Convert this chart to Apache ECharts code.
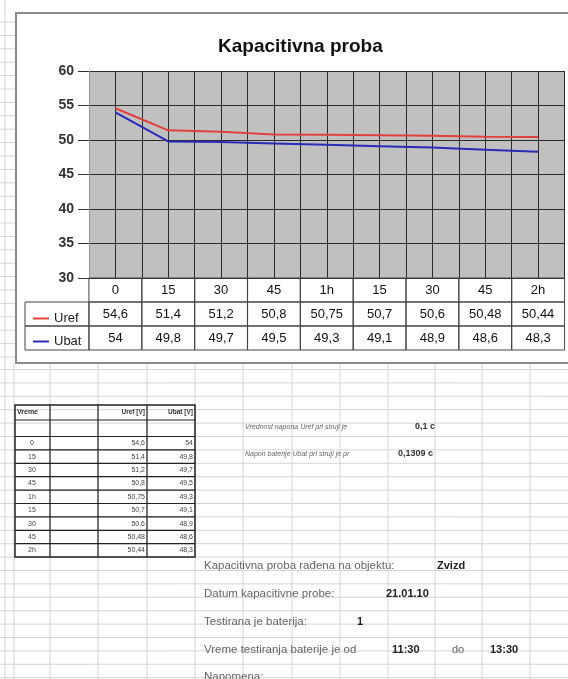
<!DOCTYPE html>
<html><head><meta charset="utf-8">
<script src="https://cdn.jsdelivr.net/npm/echarts@6/dist/echarts.min.js"></script>
<style>html,body{margin:0;padding:0;background:#fff}#c{width:568px;height:679px}</style>
</head><body><div id="c"></div>
<script>
// ---- data ----
const categories = ['0', '15', '30', '45', '1h', '1h15', '1h30', '1h45', '2h'];
const tickLabels = ['0', '15', '30', '45', '1h', '15', '30', '45', '2h'];
const uref = [54.6, 51.4, 51.2, 50.8, 50.75, 50.7, 50.6, 50.48, 50.44];
const ubat = [54, 49.8, 49.7, 49.5, 49.3, 49.1, 48.9, 48.6, 48.3];
const seriesNames = ['Uref', 'Ubat'];
const tableHeader = ['Vreme', 'Uref [V]', 'Ubat [V]'];
const notes = [
  ['Vrednost napona Uref pri struji je', '0,1 c'],
  ['Napon baterije Ubat pri struji je pr', '0,1309 c']
];
const info = [
  ['Kapacitivna proba rađena na objektu:', 'Zvizd'],
  ['Datum kapacitivne probe:', '21.01.10'],
  ['Testirana je baterija:', '1'],
  ['Vreme testiranja baterije je od', '11:30', 'do', '13:30'],
  ['Napomena:']
];

const FONT = 'Arial, "Liberation Sans", sans-serif';
const fmt = v => String(v).replace('.', ',');

function line(x1, y1, x2, y2, color, w, z) {
  return { type: 'line', z: z == null ? -20 : z, silent: true,
    shape: { x1, y1, x2, y2 }, style: { stroke: color || '#d4d4d4', lineWidth: w || 1 } };
}
function rect(x, y, w, h, fill, stroke, lw, z) {
  return { type: 'rect', z: z == null ? -10 : z, silent: true,
    shape: { x, y, width: w, height: h }, style: { fill: fill || 'none', stroke: stroke || 'none', lineWidth: lw || 1 } };
}
function txt(t, x, y, size, opts) {
  opts = opts || {};
  return { type: 'text', z: opts.z == null ? 5 : opts.z, silent: true,
    style: { text: t, x, y, fontSize: size, fontFamily: FONT, fontWeight: opts.bold ? 'bold' : 'normal',
      fontStyle: opts.italic ? 'italic' : 'normal',
      fill: opts.color || '#444', align: opts.align || 'left', verticalAlign: 'middle' } };
}

const g = [];
// spreadsheet grid
const colX = [14, 50, 98, 147, 195, 243, 292, 340, 388, 435, 482, 530];
const rowH = 13.4;
for (let y = 369.5; y < 679; y += rowH) g.push(line(0, y, 568, y));
for (const x of colX) g.push(line(x, 363, x, 679));
for (let y = 22; y < 363; y += rowH) g.push(line(0, y, 16, y));
g.push(line(5, 0, 5, 679));
// chart box
g.push(rect(16, 13, 570, 350, '#fff', '#8a8a8a', 2, -10));
// legend column cells
g.push(rect(25, 302, 64, 24, 'none', '#444', 1, 10));
g.push(rect(25, 326, 64, 24, 'none', '#444', 1, 10));

// small table
const tTop = 405, tLeft = 15, tRight = 195;
const tCols = [50, 98, 147];
const dataTop = 436.5;
const tBottom = dataTop + rowH * uref.length;
g.push(rect(tLeft, tTop, tRight - tLeft, tBottom - tTop, 'none', '#222', 1.5, 3));
for (const x of tCols) g.push(line(x, tTop, x, tBottom, '#222', 1.2, 3));
g.push(line(tLeft, 420, tRight, 420, '#222', 1.2, 3));
for (let i = 0; i < uref.length; i++) g.push(line(tLeft, dataTop + rowH * i, tRight, dataTop + rowH * i, '#222', 1.2, 3));
g.push(txt(tableHeader[0], 17, 412.5, 7, { bold: true, color: '#333' }));
g.push(txt(tableHeader[1], 145, 412.5, 6.5, { bold: true, color: '#333', align: 'right' }));
g.push(txt(tableHeader[2], 193, 412.5, 6.5, { bold: true, color: '#333', align: 'right' }));
for (let i = 0; i < uref.length; i++) {
  const cy = dataTop + rowH * i + rowH / 2;
  g.push(txt(tickLabels[i], 32, cy, 7, { color: '#444', align: 'center' }));
  g.push(txt(fmt(uref[i]), 145, cy, 7, { color: '#444', align: 'right' }));
  g.push(txt(fmt(ubat[i]), 193, cy, 7, { color: '#444', align: 'right' }));
}
// notes
g.push(txt(notes[0][0], 245, 427, 7, { italic: true, color: '#666' }));
g.push(txt(notes[0][1], 415, 427, 9, { bold: true, color: '#333' }));
g.push(txt(notes[1][0], 245, 454, 7, { italic: true, color: '#666' }));
g.push(txt(notes[1][1], 398, 454, 9, { bold: true, color: '#333' }));
// info block
const infoY = [566, 594, 622, 650, 677];
g.push(txt(info[0][0], 204, infoY[0], 11.5, { color: '#666' }));
g.push(txt(info[0][1], 437, infoY[0], 11, { bold: true, color: '#222' }));
g.push(txt(info[1][0], 204, infoY[1], 11.5, { color: '#666' }));
g.push(txt(info[1][1], 386, infoY[1], 11, { bold: true, color: '#222' }));
g.push(txt(info[2][0], 204, infoY[2], 11.5, { color: '#666' }));
g.push(txt(info[2][1], 357, infoY[2], 11, { bold: true, color: '#222' }));
g.push(txt(info[3][0], 204, infoY[3], 11.5, { color: '#666' }));
g.push(txt(info[3][1], 392, infoY[3], 11, { bold: true, color: '#222' }));
g.push(txt(info[3][2], 452, infoY[3], 11, { color: '#666' }));
g.push(txt(info[3][3], 490, infoY[3], 11, { bold: true, color: '#222' }));
g.push(txt(info[4][0], 204, infoY[4], 11.5, { color: '#666' }));

const cell = { width: 53, height: 24, lineHeight: 24, align: 'center', verticalAlign: 'middle',
  borderColor: '#444', borderWidth: 1, fontSize: 13, color: '#111', fontFamily: FONT };

const chart = echarts.init(document.getElementById('c'), null, { renderer: 'canvas' });
chart.setOption({
  animation: false,
  backgroundColor: '#fff',
  title: { text: 'Kapacitivna proba', left: 213, top: 32,
    textStyle: { fontSize: 19, fontWeight: 'bold', color: '#111', fontFamily: FONT } },
  legend: { data: seriesNames, orient: 'vertical', left: 28, top: 307, itemGap: 10,
    itemWidth: 16, itemHeight: 2, icon: 'rect',
    textStyle: { fontSize: 13, color: '#222', fontFamily: FONT } },
  grid: { left: 89, top: 71, width: 477, height: 207, show: true, backgroundColor: '#c0c0c0', borderWidth: 0 },
  xAxis: [
    { type: 'category', data: categories, boundaryGap: true,
      axisLine: { show: false }, axisTick: { show: false }, splitLine: { show: false },
      axisLabel: { interval: 0, margin: 0,
        formatter: (v, i) => `{h|${tickLabels[i]}}\n{r|${fmt(uref[i])}}\n{r|${fmt(ubat[i])}}`,
        rich: { h: cell, r: cell } } },
    { type: 'value', position: 'top', min: -0.5, max: 8.5, interval: 0.5,
      axisLine: { show: false }, axisTick: { show: false }, axisLabel: { show: false },
      splitLine: { show: true, lineStyle: { color: '#2a2a2a', width: 1 } } }
  ],
  yAxis: { type: 'value', min: 30, max: 60, interval: 5,
    axisLine: { show: true, onZero: false, lineStyle: { color: '#999' } },
    axisTick: { show: true, inside: false, length: 11, lineStyle: { color: '#333' } },
    axisLabel: { margin: 15, fontSize: 14, fontWeight: 'bold', color: '#333', fontFamily: FONT },
    splitLine: { show: true, lineStyle: { color: '#2a2a2a', width: 1 } } },
  graphic: g,
  series: [
    { name: seriesNames[0], type: 'line', data: uref, showSymbol: false, color: '#e2403c',
      lineStyle: { width: 2, color: '#e2403c' } },
    { name: seriesNames[1], type: 'line', data: ubat, showSymbol: false, color: '#2a2ab8',
      lineStyle: { width: 2, color: '#2a2ab8' } }
  ]
});
</script></body></html>
